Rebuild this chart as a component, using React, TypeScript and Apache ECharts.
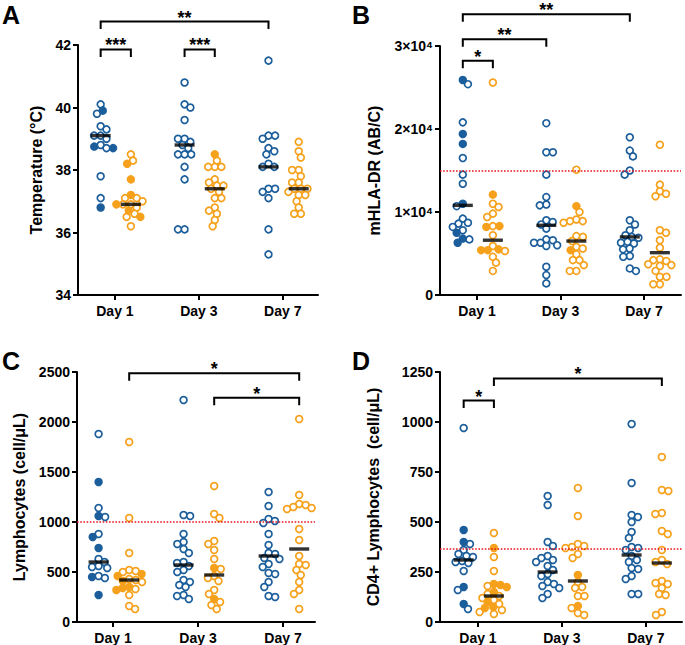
import React, { useEffect, useRef } from "react";
import * as echarts from "echarts";

const days = ["Day 1", "Day 3", "Day 7"];

// ---- Panel A: Temperature (°C) ----
const tempBlueOpen = [
  [40.1, 39.8, 39.4, 39.3, 39.1, 39.1, 39.0, 38.8, 38.7, 37.8, 37.1],
  [40.8, 40.1, 40.0, 39.6, 39.0, 39.0, 38.9, 38.8, 38.7, 38.5, 38.5, 38.5, 38.1, 37.7, 36.1, 36.1],
  [41.5, 39.1, 39.1, 39.0, 38.7, 38.6, 38.5, 38.2, 38.1, 38.1, 37.4, 37.4, 37.3, 37.1, 36.1, 35.3],
];
const tempBlueFilled = [[39.9, 38.75, 38.7, 36.8], [], []];
const tempOrangeOpen = [
  [38.5, 38.3, 37.1, 37.1, 37.0, 36.9, 36.9, 36.8, 36.6, 36.5, 36.2],
  [38.3, 38.1, 38.1, 38.1, 37.7, 37.6, 37.5, 37.5, 37.4, 37.3, 37.1, 37.1, 36.8, 36.7, 36.6, 36.4, 36.2],
  [38.9, 38.6, 38.4, 38.0, 38.0, 37.8, 37.6, 37.6, 37.4, 37.4, 37.4, 37.3, 37.2, 37.2, 37.0, 36.8, 36.6, 36.6],
];
const tempOrangeFilled = [[38.2, 37.7, 37.2, 36.9, 36.7, 36.5], [38.5], []];
const tempMedianBlue = [39.1, 38.8, 38.1];
const tempMedianOrange = [36.9, 37.4, 37.4];

// ---- Panel B: mHLA-DR (AB/C) ----
const hlaBlueOpen = [
  [25400, 20800, 16500, 14500, 13400, 10700, 9200, 8700, 8600, 8200, 7800, 6700],
  [20700, 17200, 17200, 14500, 11800, 10900, 10800, 9000, 8800, 8500, 8000, 6700, 6600, 6300, 6300, 6000, 5900, 3400, 2400, 1400],
  [19000, 17400, 16700, 15000, 14500, 9000, 8500, 7800, 7200, 7000, 6900, 6400, 6300, 6200, 5600, 5500, 4700, 4600, 3200, 2900],
];
const hlaBlueFilled = [[25900, 19400, 18200, 11000, 7500, 6800, 6300], [], []];
const hlaOrangeOpen = [
  [25600, 11000, 10600, 9800, 9400, 8300, 7200, 5900, 5300, 4600, 3900, 2900],
  [15100, 10000, 9100, 8900, 8900, 8700, 7100, 7000, 6500, 5800, 5600, 4900, 4200, 4200, 3600, 2900, 2900],
  [18100, 13300, 12500, 12200, 11900, 7800, 7500, 6600, 5700, 4300, 4200, 4100, 3700, 3600, 3500, 2900, 2200, 2200, 1300, 1300],
];
const hlaOrangeFilled = [[12100, 8300, 8200, 5500, 5400, 5400], [10700, 5400], []];
const hlaMedianBlue = [10800, 8400, 7000];
const hlaMedianOrange = [6600, 6500, 5100];
const hlaThreshold = 15000;

// ---- Panel C: Lymphocytes (cell/µL) ----
const lymBlueOpen = [
  [1880, 1140, 1050, 880, 630, 600, 560, 550, 540, 460, 440],
  [2220, 1070, 1060, 880, 800, 780, 730, 690, 600, 590, 560, 520, 500, 420, 400, 370, 350, 270, 260, 230],
  [1300, 1160, 1030, 1010, 990, 880, 770, 690, 680, 640, 630, 580, 550, 490, 480, 400, 350, 260, 250],
];
const lymBlueFilled = [[1400, 1060, 850, 740, 450, 270], [], []];
const lymOrangeOpen = [
  [1800, 1040, 690, 520, 510, 500, 430, 420, 400, 330, 270, 160, 130],
  [1360, 1080, 1040, 810, 780, 720, 630, 530, 460, 440, 410, 320, 280, 200, 170, 130],
  [2030, 1270, 1180, 1170, 1150, 1140, 1130, 930, 820, 660, 580, 570, 520, 470, 400, 320, 280, 130],
];
const lymOrangeFilled = [[480, 460, 410, 350, 340, 320], [540, 230], []];
const lymMedianBlue = [600, 570, 660];
const lymMedianOrange = [420, 470, 730];
const lymThreshold = 1000;

// ---- Panel D: CD4+ Lymphocytes (cell/µL) ----
const cd4BlueOpen = [
  [970, 390, 360, 340, 330, 325, 305, 300, 295, 255, 160, 65],
  [630, 585, 400, 380, 330, 320, 310, 300, 280, 260, 240, 230, 200, 190, 180, 170, 140, 120],
  [990, 695, 535, 525, 500, 450, 420, 375, 370, 360, 330, 310, 300, 270, 265, 230, 215, 140, 140],
];
const cd4BlueFilled = [[460, 400, 175, 90], [], []];
const cd4OrangeOpen = [
  [445, 325, 255, 180, 140, 130, 120, 110, 90, 60, 50, 40],
  [670, 530, 390, 380, 375, 370, 340, 320, 200, 175, 170, 130, 130, 70, 45, 35],
  [825, 660, 655, 545, 540, 455, 440, 360, 310, 300, 290, 205, 195, 190, 170, 140, 135, 50, 35],
];
const cd4OrangeFilled = [[370, 190, 185, 175, 150, 100, 75, 70], [235, 80], []];
const cd4MedianBlue = [310, 250, 335];
const cd4MedianOrange = [130, 205, 295];
const cd4Threshold = 365;

// significance brackets: [day1, group1, day2, group2, yLevel, label]  (group 0 = blue, 1 = orange)
const tempBrackets: [number, number, number, number, number, string][] = [
  [0, 0, 0, 1, 41.86, "***"],
  [1, 0, 1, 1, 41.86, "***"],
  [0, 0, 2, 0, 42.75, "**"],
];
const hlaBrackets: [number, number, number, number, number, string][] = [
  [0, 0, 0, 1, 28230, "*"],
  [0, 0, 1, 0, 30810, "**"],
  [0, 0, 2, 0, 33820, "**"],
];
const lymBrackets: [number, number, number, number, number, string][] = [
  [0, 1, 2, 1, 2487, "*"],
  [1, 1, 2, 1, 2243, "*"],
];
const cd4Brackets: [number, number, number, number, number, string][] = [
  [0, 0, 0, 1, 1107, "*"],
  [0, 1, 2, 1, 1218, "*"],
];

const BLUE = "#1b5e9b";
const ORANGE = "#f6a11c";
const RED = "#e4171f";
const FONT = "'Liberation Sans', Arial, Helvetica, sans-serif";
const GROUP_OFF = [-0.17, 0.19];

function swarmOffsets(vals: number[], pxY: number, diam: number): number[] {
  const idx = vals.map((_, i) => i).sort((a, b) => vals[b] - vals[a]);
  const placed: { x: number; y: number }[] = [];
  const out = new Array(vals.length).fill(0);
  let side = 1;
  for (const i of idx) {
    const y = vals[i] * pxY;
    const near = placed.filter((p) => Math.abs(p.y - y) < diam);
    const cands = [0];
    for (const p of near) {
      const w = Math.sqrt(diam * diam - (p.y - y) * (p.y - y));
      cands.push(p.x - w, p.x + w);
    }
    cands.sort((a, b) => Math.abs(a) - Math.abs(b) || side * (b - a));
    let best = 0;
    for (const c of cands) {
      if (near.every((p) => (p.x - c) ** 2 + (p.y - y) ** 2 >= diam * diam - 0.05)) {
        best = c;
        break;
      }
    }
    if (best !== 0) side = -side;
    placed.push({ x: best, y });
    out[i] = best;
  }
  return out;
}

type PanelDef = {
  letter: string;
  name: string;
  nameGap: number;
  grid: { left: number; top: number; width: number; height: number };
  xmin: number;
  xmax: number;
  ymin: number;
  ymax: number;
  interval: number;
  fmt?: (v: number) => string;
  blueOpen: number[][];
  blueFilled: number[][];
  orangeOpen: number[][];
  orangeFilled: number[][];
  medBlue: number[];
  medOrange: number[];
  threshold?: number;
  brackets: [number, number, number, number, number, string][];
  letterPos: [number, number];
};

const panels: PanelDef[] = [
  {
    letter: "A", name: "Temperature (°C)", nameGap: 34,
    grid: { left: 78, top: 45, width: 240, height: 250 },
    xmin: -0.44, xmax: 2.42, ymin: 34, ymax: 42, interval: 2,
    blueOpen: tempBlueOpen, blueFilled: tempBlueFilled, orangeOpen: tempOrangeOpen, orangeFilled: tempOrangeFilled,
    medBlue: tempMedianBlue, medOrange: tempMedianOrange, brackets: tempBrackets, letterPos: [2, 2],
  },
  {
    letter: "B", name: "mHLA-DR (AB/C)", nameGap: 58,
    grid: { left: 440, top: 46, width: 241, height: 249 },
    xmin: -0.443, xmax: 2.443, ymin: 0, ymax: 30000, interval: 10000,
    fmt: (v: number) => (v === 0 ? "0" : `${Math.round(v / 10000)}×10⁴`),
    blueOpen: hlaBlueOpen, blueFilled: hlaBlueFilled, orangeOpen: hlaOrangeOpen, orangeFilled: hlaOrangeFilled,
    medBlue: hlaMedianBlue, medOrange: hlaMedianOrange, threshold: hlaThreshold, brackets: hlaBrackets, letterPos: [352, 2],
  },
  {
    letter: "C", name: "Lymphocytes (cell/μL)", nameGap: 50,
    grid: { left: 77, top: 372, width: 238, height: 250 },
    xmin: -0.424, xmax: 2.376, ymin: 0, ymax: 2500, interval: 500,
    blueOpen: lymBlueOpen, blueFilled: lymBlueFilled, orangeOpen: lymOrangeOpen, orangeFilled: lymOrangeFilled,
    medBlue: lymMedianBlue, medOrange: lymMedianOrange, threshold: lymThreshold, brackets: lymBrackets, letterPos: [2, 348],
  },
  {
    letter: "D", name: "CD4+ Lymphocytes  (cell/μL)", nameGap: 59,
    grid: { left: 440, top: 372, width: 242, height: 250 },
    xmin: -0.452, xmax: 2.43, ymin: 0, ymax: 1250, interval: 250,
    blueOpen: cd4BlueOpen, blueFilled: cd4BlueFilled, orangeOpen: cd4OrangeOpen, orangeFilled: cd4OrangeFilled,
    medBlue: cd4MedianBlue, medOrange: cd4MedianOrange, threshold: cd4Threshold, brackets: cd4Brackets, letterPos: [352, 348],
  },
];

function buildOption() {
  const grid: any[] = [];
  const xAxis: any[] = [];
  const yAxis: any[] = [];
  const series: any[] = [];
  const graphic: any[] = [];
  const DIAM = 6.6;

  panels.forEach((p, gi) => {
    grid.push({ ...p.grid, outerBoundsMode: "none", containLabel: false });
    const pxX = p.grid.width / (p.xmax - p.xmin);
    const pxY = p.grid.height / (p.ymax - p.ymin);
    xAxis.push({
      type: "value", gridIndex: gi, min: p.xmin, max: p.xmax,
      splitLine: { show: false },
      axisLine: { onZero: false, lineStyle: { color: "#000", width: 2 } },
      axisTick: { customValues: [0, 1, 2], length: 5, lineStyle: { color: "#000", width: 2 } },
      axisLabel: {
        customValues: [0, 1, 2], formatter: (v: number) => days[Math.round(v)] ?? "",
        color: "#000", fontWeight: "bold", fontSize: 14, fontFamily: FONT, margin: 9,
      },
    });
    yAxis.push({
      type: "value", gridIndex: gi, min: p.ymin, max: p.ymax, interval: p.interval,
      name: p.name, nameLocation: "middle", nameGap: p.nameGap,
      nameTextStyle: { color: "#000", fontWeight: "bold", fontSize: 16, fontFamily: FONT },
      splitLine: { show: false },
      axisLine: { show: true, onZero: false, lineStyle: { color: "#000", width: 2 } },
      axisTick: { show: true, length: 5, lineStyle: { color: "#000", width: 2 } },
      axisLabel: {
        color: "#000", fontWeight: "bold", fontSize: 14, fontFamily: FONT, margin: 7,
        formatter: p.fmt ? p.fmt : (v: number) => String(v),
      },
    });

    const groups = [
      { open: p.blueOpen, filled: p.blueFilled, color: BLUE, name: "blue" },
      { open: p.orangeOpen, filled: p.orangeFilled, color: ORANGE, name: "orange" },
    ];
    groups.forEach((g, k) => {
      const data: any[] = [];
      for (let d = 0; d < 3; d++) {
        const items = [
          ...g.open[d].map((v) => ({ v, f: false })),
          ...g.filled[d].map((v) => ({ v, f: true })),
        ];
        const offs = swarmOffsets(items.map((it) => it.v), pxY, DIAM);
        items.forEach((it, i) => {
          data.push({
            value: [d + GROUP_OFF[k] + offs[i] / pxX, it.v],
            itemStyle: { color: it.f ? g.color : "#ffffff", borderColor: g.color, borderWidth: 1.7 },
          });
        });
      }
      series.push({
        type: "scatter", name: `${p.letter}-${g.name}`, xAxisIndex: gi, yAxisIndex: gi,
        symbol: "circle", symbolSize: 6.8, data, z: 3,
        itemStyle: { borderColor: g.color, borderWidth: 1.7, color: "#fff", opacity: 1 },
      });
    });

    const medData: any[] = [];
    for (let d = 0; d < 3; d++) {
      medData.push([d + GROUP_OFF[0], p.medBlue[d]]);
      medData.push([d + GROUP_OFF[1], p.medOrange[d]]);
    }
    const med: any = {
      type: "scatter", name: `${p.letter}-median`, xAxisIndex: gi, yAxisIndex: gi,
      symbol: "rect", symbolSize: [20, 3.4], data: medData, z: 5,
      itemStyle: { color: "#000" },
    };
    if (p.threshold !== undefined) {
      med.markLine = {
        silent: true, symbol: "none", label: { show: false },
        lineStyle: { color: RED, type: "dotted", width: 1.6 },
        data: [{ yAxis: p.threshold }],
        z: 4,
      };
    }
    series.push(med);

    const br = p.brackets;
    series.push({
      type: "custom", name: `${p.letter}-brackets`, xAxisIndex: gi, yAxisIndex: gi, clip: false, z: 6,
      data: br.map((b) => [b[0] + GROUP_OFF[b[1]], b[4], b[2] + GROUP_OFF[b[3]]]),
      renderItem: (params: any, api: any) => {
        const b = br[params.dataIndex];
        const p1 = api.coord([b[0] + GROUP_OFF[b[1]], b[4]]);
        const p2 = api.coord([b[2] + GROUP_OFF[b[3]], b[4]]);
        return {
          type: "group",
          children: [
            {
              type: "polyline",
              shape: { points: [[p1[0], p1[1] + 7.5], [p1[0], p1[1]], [p2[0], p2[1]], [p2[0], p2[1] + 7.5]] },
              style: { stroke: "#000", lineWidth: 2, fill: "none" },
            },
            {
              type: "text",
              x: (p1[0] + p2[0]) / 2, y: p1[1] - 4,
              style: { text: b[5], fill: "#000", fontSize: 18, fontWeight: "bold", fontFamily: FONT, align: "center", verticalAlign: "middle" },
            },
          ],
        };
      },
    });

    graphic.push({
      type: "text", left: p.letterPos[0], top: p.letterPos[1],
      style: { text: p.letter, fill: "#000", fontSize: 25, fontWeight: "bold", fontFamily: FONT },
    });
  });

  return { animation: false, backgroundColor: "#fff", grid, xAxis, yAxis, series, graphic };
}

export default function App() {
  const ref = useRef<HTMLDivElement>(null);
  useEffect(() => {
    if (!ref.current) return;
    const chart = echarts.init(ref.current, undefined, { renderer: "svg" });
    chart.setOption(buildOption() as any);
    return () => chart.dispose();
  }, []);
  return <div ref={ref} style={{ position: "absolute", left: 0, top: 0, width: 685, height: 645 }} />;
}
